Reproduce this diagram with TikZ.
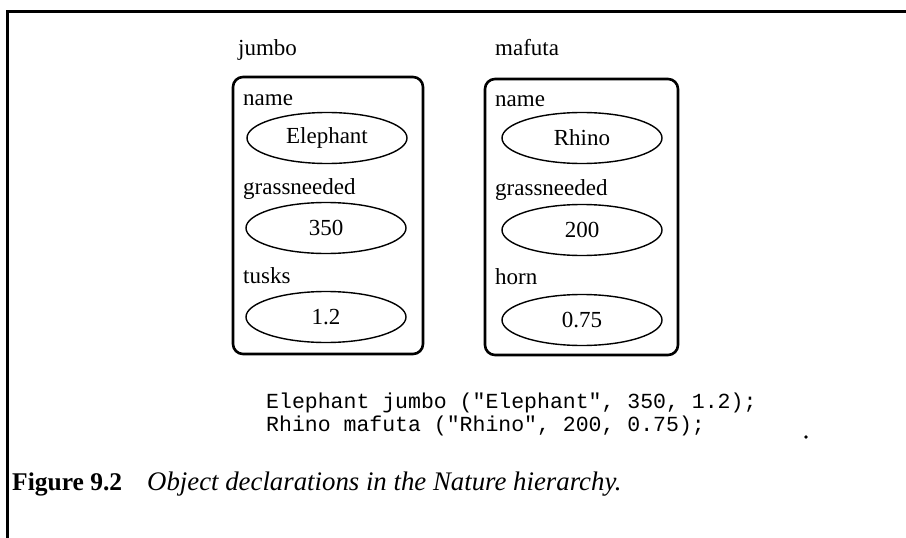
\documentclass[tikz,border=0pt]{standalone}
\usepackage{fontspec}
\setmainfont{Liberation Serif}
\setmonofont{Liberation Mono}
\usetikzlibrary{shapes.geometric}

\tikzset{
  objbox/.style={draw, line width=2.6pt, rounded corners=10pt},
  valbox/.style={draw, ellipse, line width=1.4pt, inner sep=0pt,
                 minimum width=160pt, minimum height=51pt,
                 font=\fontsize{23}{27}\selectfont},
  fieldlbl/.style={anchor=base west, inner sep=0pt,
                   font=\fontsize{23}{27}\selectfont},
  codeline/.style={anchor=base west, inner sep=0pt,
                   font=\ttfamily\fontsize{21.5}{25}\selectfont},
  framerule/.style={line width=3pt}
}

\begin{document}
\begin{tikzpicture}[x=1pt,y=-1pt]
  \useasboundingbox (0,0) rectangle (906,538);

  % outer frame (top and left rules)
  \coordinate (frTR) at (906,11);
  \coordinate (frTL) at (7,11);
  \coordinate (frBL) at (7,538);
  \draw[framerule] (frTR) -- (frTL) -- (frBL);

  % object names
  \node[fieldlbl] (jumbo)  at (238,55) {jumbo};
  \node[fieldlbl] (mafuta) at (495,55) {mafuta};

  % object jumbo
  \draw[objbox] (233,77) rectangle (423,354);
  \node[fieldlbl] (jname) at (243,105) {name};
  \node[valbox]   (jnv)   at (327,138) {Elephant};
  \node[fieldlbl] (jgrass) at (243,194) {grassneeded};
  \node[valbox]   (jgv)   at (326,228) {350};
  \node[fieldlbl] (jtusk) at (243,283) {tusks};
  \node[valbox]   (jtv)   at (326,317) {1.2};

  % object mafuta
  \draw[objbox] (485,79) rectangle (678,355);
  \node[fieldlbl] (mname) at (495,106) {name};
  \node[valbox]   (mnv)   at (582,138) {Rhino};
  \node[fieldlbl] (mgrass) at (495,195) {grassneeded};
  \node[valbox]   (mgv)   at (582,230) {200};
  \node[fieldlbl] (mhorn) at (495,284) {horn};
  \node[valbox]   (mhv)   at (582,320) {0.75};

  % declarations
  \node[codeline] (decl1) at (266,408) {Elephant jumbo ("Elephant", 350, 1.2);};
  \node[codeline] (decl2) at (266,431) {Rhino mafuta ("Rhino", 200, 0.75);};
  \fill (806,437) circle (1.8pt);

  % caption
  \node[anchor=base west, inner sep=0pt, font=\bfseries\fontsize{25.5}{30}\selectfont]
    (capnum) at (12,490) {Figure 9.2};
  \node[anchor=base west, inner sep=0pt, font=\itshape\fontsize{26.8}{31}\selectfont]
    (captxt) at (147,490) {Object declarations in the Nature hierarchy.};
\end{tikzpicture}
\end{document}
